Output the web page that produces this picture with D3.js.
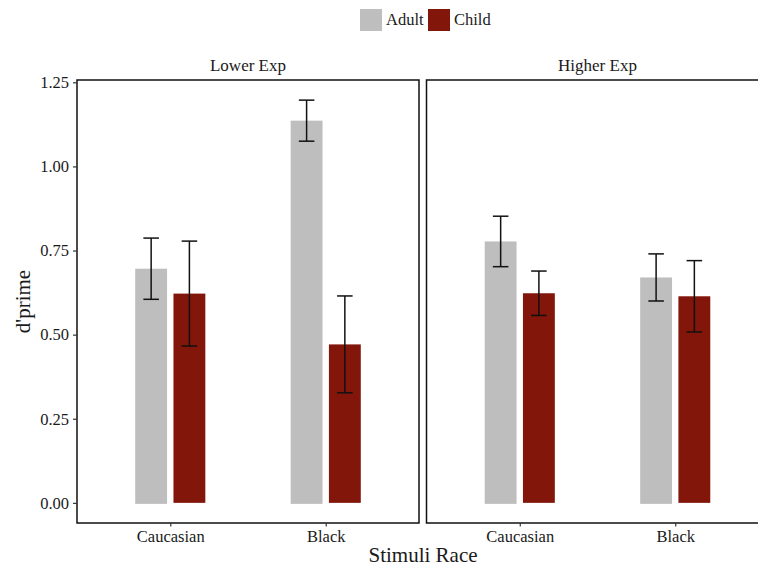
<!doctype html>
<meta charset="utf-8">
<script src="https://d3js.org/d3.v7.min.js"></script>
<style>
  body { margin: 0; background: #fff; }
  text { font-family: "Liberation Serif", "Times New Roman", serif; fill: #1a1a1a; }
</style>
<body>
<script>

var width = 758;
var height = 566;

// data
var panels = ["Lower Exp", "Higher Exp"];
var races = ["Caucasian", "Black"];
var groups = ["Adult", "Child"];
var colors = ["#bebebe", "#82160a"];

// means per panel, per race
var adultMean = [[0.696, 1.136], [0.777, 0.670]];
var childMean = [[0.622, 0.471], [0.623, 0.614]];
var adultSE = [[0.091, 0.061], [0.075, 0.070]];
var childSE = [[0.156, 0.144], [0.066, 0.106]];

var yTicks = [0, 0.25, 0.5, 0.75, 1, 1.25];

var rows = [];
panels.forEach(function(p, pi) {
    races.forEach(function(r, ri) {
        rows.push({panel: pi, race: r, group: 0, mean: adultMean[pi][ri], se: adultSE[pi][ri]});
        rows.push({panel: pi, race: r, group: 1, mean: childMean[pi][ri], se: childSE[pi][ri]});
    });
});

var plotTop = 80, plotBottom = 523;
var panelLeft = [77, 426.5];
var panelWidth = 342;
var serif = '"Liberation Serif", "Times New Roman", serif';

var hiMax = d3.max(rows, function(d) { return d.mean + d.se; });
var pad = hiMax * 0.05;

var y = d3.scaleLinear()
        .domain([-pad, hiMax + pad])
        .range([plotBottom, plotTop]);

var svg = d3.select("body")
        .append("svg")
        .attr("width", width)
        .attr("height", height);

// legend
var legend = svg.append("g");
var legendX = [360, 428];
groups.forEach(function(g, i) {
    legend.append("rect")
        .attr("x", legendX[i])
        .attr("y", 9)
        .attr("width", 22)
        .attr("height", 22)
        .attr("fill", colors[i]);
    legend.append("text")
        .attr("x", legendX[i] + 26)
        .attr("y", 25)
        .style("font-size", "16.5px")
        .text(g);
});

panels.forEach(function(p, pi) {
    var x0 = panelLeft[pi];
    var x = d3.scalePoint()
            .domain(races)
            .range([x0, x0 + panelWidth])
            .padding(0.6);
    var step = x.step();
    var barW = step * 0.205;
    var offset = step * 0.123;
    var capW = step * 0.1;

    var g = svg.append("g");

    g.append("text")
        .attr("x", x0 + panelWidth / 2)
        .attr("y", 71)
        .attr("text-anchor", "middle")
        .style("font-size", "17px")
        .text(p);

    var data = rows.filter(function(d) { return d.panel === pi; });

    function cx(d) { return x(d.race) + (d.group ? offset : -offset); }

    g.selectAll("rect.bar")
        .data(data)
        .enter()
        .append("rect")
        .attr("class", "bar")
        .attr("x", function(d) { return cx(d) - barW / 2; })
        .attr("y", function(d) { return y(d.mean); })
        .attr("width", barW)
        .attr("height", function(d) { return y(0) - y(d.mean) + (d.group ? 0 : 1); })
        .attr("fill", function(d) { return colors[d.group]; });

    var err = g.selectAll("g.err")
        .data(data)
        .enter()
        .append("g")
        .attr("class", "err")
        .attr("stroke", "#111")
        .attr("stroke-width", 1.5);

    err.append("line")
        .attr("x1", cx).attr("x2", cx)
        .attr("y1", function(d) { return y(d.mean + d.se); })
        .attr("y2", function(d) { return y(d.mean - d.se); });
    err.append("line")
        .attr("x1", function(d) { return cx(d) - capW / 2; })
        .attr("x2", function(d) { return cx(d) + capW / 2; })
        .attr("y1", function(d) { return y(d.mean + d.se); })
        .attr("y2", function(d) { return y(d.mean + d.se); });
    err.append("line")
        .attr("x1", function(d) { return cx(d) - capW / 2; })
        .attr("x2", function(d) { return cx(d) + capW / 2; })
        .attr("y1", function(d) { return y(d.mean - d.se); })
        .attr("y2", function(d) { return y(d.mean - d.se); });

    // panel border
    g.append("rect")
        .attr("x", x0)
        .attr("y", plotTop)
        .attr("width", panelWidth)
        .attr("height", plotBottom - plotTop)
        .attr("fill", "none")
        .attr("stroke", "#111")
        .attr("stroke-width", 1.5);

    var xAxis = g.append("g")
        .attr("transform", "translate(0," + plotBottom + ")")
        .call(d3.axisBottom(x).tickSize(3.5).tickPadding(4))
        .attr("font-family", serif);
    xAxis.select(".domain").remove();
    xAxis.selectAll(".tick line").attr("stroke", "#333").attr("stroke-width", 1.2);
    xAxis.selectAll(".tick text")
        .style("font-size", "16.5px")
        .attr("fill", "#1a1a1a");

    if (pi === 0) {
        var yAxis = g.append("g")
            .attr("transform", "translate(" + x0 + ",0)")
            .call(d3.axisLeft(y).tickValues(yTicks).tickFormat(d3.format(".2f")).tickSize(4).tickPadding(4))
            .attr("font-family", serif);
        yAxis.select(".domain").remove();
        yAxis.selectAll(".tick line").attr("stroke", "#333").attr("stroke-width", 1.2);
        yAxis.selectAll(".tick text")
            .style("font-size", "16.5px")
            .attr("fill", "#1a1a1a");
    }
});

svg.append("text")
    .attr("x", 423)
    .attr("y", 562)
    .attr("text-anchor", "middle")
    .style("font-size", "21px")
    .text("Stimuli Race");

svg.append("text")
    .attr("transform", "translate(30," + (plotTop + plotBottom) / 2 + ") rotate(-90)")
    .attr("text-anchor", "middle")
    .style("font-size", "21px")
    .text("d'prime");

</script>
